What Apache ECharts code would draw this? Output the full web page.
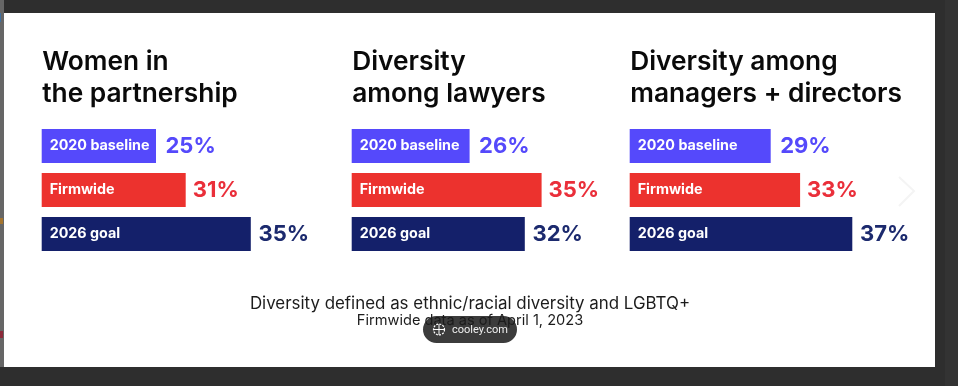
<!DOCTYPE html>
<html>
<head>
<meta charset="utf-8">
<style>html,body{margin:0;padding:0;background:#2e2e2e}#c{width:958px;height:386px}</style>
<script src="https://cdn.jsdelivr.net/npm/echarts@6/dist/echarts.min.js"></script>
</head>
<body>
<div id="c"></div>
<script>
const rowLabels = ['2020 baseline', 'Firmwide', '2026 goal'];
const panelTitles = ['Women in\nthe partnership', 'Diversity\namong lawyers', 'Diversity among\nmanagers + directors'];
// printed percentages
const womenPrinted = [25, 31, 35];
const lawyersPrinted = [26, 35, 32];
const managersPrinted = [29, 33, 37];
// drawn bar lengths (the source bars are not proportional to the printed figures)
const womenDrawn = [19.05, 24, 34.85];
const lawyersDrawn = [19.65, 31.65, 28.85];
const managersDrawn = [23.5, 28.4, 37.1];
const footnoteMain = 'Diversity defined as ethnic/racial diversity and LGBTQ+';
const footnoteDate = 'Firmwide data as of April 1, 2023';

const rowColors = ['#5549fb', '#ec322e', '#14206a'];
const valueColors = ['#5549fb', '#ea2f3a', '#1c2a6e'];
const rowGaps = [9.5, 7, 7.7];
const fontStack = 'Inter';
const lefts = [41.7, 351.7, 629.7];
const printed = [womenPrinted, lawyersPrinted, managersPrinted];
const drawn = [womenDrawn, lawyersDrawn, managersDrawn];

const grid = [], xAxis = [], yAxis = [], series = [], title = [];
lefts.forEach((left, i) => {
  grid.push({left, top: 124, width: 300, height: 132});
  xAxis.push({type: 'value', gridIndex: i, min: 0, max: 50, show: false});
  yAxis.push({type: 'category', gridIndex: i, inverse: true, data: rowLabels, show: false});
  series.push({
    type: 'bar', xAxisIndex: i, yAxisIndex: i, barWidth: 34, silent: true, animation: false,
    data: drawn[i].map((v, k) => ({value: v, itemStyle: {color: rowColors[k]}})),
    label: {show: true, position: 'insideLeft', distance: 8, color: '#fff',
      fontFamily: fontStack, fontWeight: 700, fontSize: 14.3,
      formatter: p => rowLabels[p.dataIndex]}
  });
  series.push({
    type: 'bar', xAxisIndex: i, yAxisIndex: i, barWidth: 34, barGap: '-100%', silent: true, animation: false,
    data: drawn[i].map((v, k) => ({
      value: v, itemStyle: {color: 'rgba(0,0,0,0)'},
      label: {color: valueColors[k], distance: rowGaps[k], formatter: printed[i][k] + '%'}
    })),
    label: {show: true, position: 'right',
      fontFamily: fontStack, fontWeight: 700, fontSize: 22}
  });
  title.push({
    text: panelTitles[i], left: left + 0.5, top: 46, padding: 0,
    textStyle: {fontFamily: fontStack, fontWeight: 600, fontSize: 26.3, lineHeight: 32, color: '#0a0a0a'}
  });
});
title.push({
  text: footnoteMain, left: 470, top: 295, textAlign: 'center', padding: 0,
  textStyle: {fontFamily: fontStack, fontWeight: 400, fontSize: 16.9, lineHeight: 18, color: '#1c1c1c'}
});
title.push({
  text: footnoteDate, left: 470, top: 312, textAlign: 'center', padding: 0,
  textStyle: {fontFamily: fontStack, fontWeight: 400, fontSize: 14.6, lineHeight: 17, color: '#1c1c1c'}
});

const chart = echarts.init(document.getElementById('c'), null, {renderer: 'canvas'});
chart.setOption({
  backgroundColor: '#2e2e2e',
  animation: false,
  title, grid, xAxis, yAxis, series,
  graphic: {elements: [
    {type: 'rect', z: -20, silent: true, shape: {x: 945, y: 0, width: 13, height: 386}, style: {fill: '#333333'}},
    {type: 'rect', z: -20, silent: true, shape: {x: 0, y: 0, width: 4, height: 367}, style: {fill: '#666666'}},
    {type: 'rect', z: -19, silent: true, shape: {x: 0, y: 13, width: 1, height: 9}, style: {fill: '#3f6f9f'}},
    {type: 'rect', z: -19, silent: true, shape: {x: 0, y: 218, width: 3, height: 6}, style: {fill: '#a5752e'}},
    {type: 'rect', z: -19, silent: true, shape: {x: 0, y: 331, width: 3, height: 7}, style: {fill: '#8c2a3a'}},
    {type: 'rect', z: -15, silent: true, shape: {x: 4, y: 13, width: 931, height: 354}, style: {fill: '#ffffff'}},
    {type: 'polyline', z: 50, silent: true, shape: {points: [[899, 177], [914, 191], [899, 206]]},
      style: {stroke: '#f4f4f4', lineWidth: 2, fill: 'none'}},
    {type: 'rect', z: -5, silent: true, shape: {x: 423, y: 316, width: 94, height: 27, r: 13.5}, style: {fill: '#3c3c3c'}},
    {type: 'circle', z: 101, silent: true, shape: {cx: 439, cy: 329.5, r: 5.5},
      style: {fill: 'none', stroke: '#fff', lineWidth: 1.2, lineDash: [2, 1.2]}},
    {type: 'line', z: 101, silent: true, shape: {x1: 433.5, y1: 329.5, x2: 444.5, y2: 329.5}, style: {stroke: '#fff', lineWidth: 1}},
    {type: 'line', z: 101, silent: true, shape: {x1: 439, y1: 324, x2: 439, y2: 335}, style: {stroke: '#fff', lineWidth: 1}},
    {type: 'text', z: 101, silent: true, style: {x: 452, y: 330, text: 'cooley.com', fill: '#f0f0f0',
      font: '11px Roboto', verticalAlign: 'middle'}}
  ]}
});
</script>
</body>
</html>
